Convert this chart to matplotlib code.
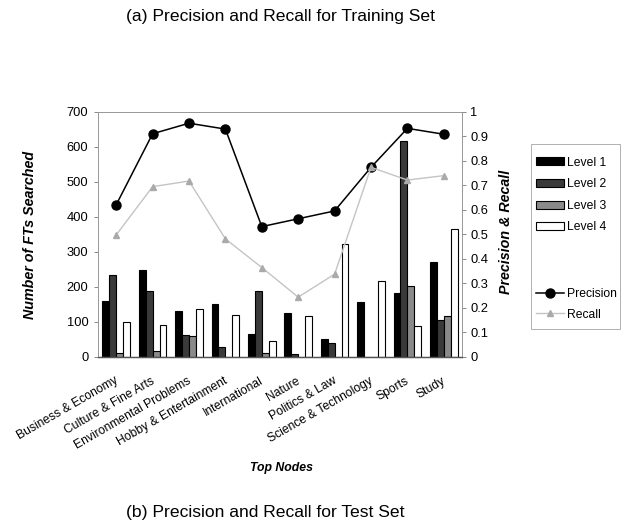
import numpy as np
import matplotlib
matplotlib.use("Agg")
import matplotlib.pyplot as plt
from matplotlib.patches import Patch, Rectangle
from matplotlib.lines import Line2D

plt.rcParams['font.family'] = ['Liberation Sans', 'DejaVu Sans']

categories = ["Business & Economy", "Culture & Fine Arts", "Environmental Problems",
              "Hobby & Entertainment", "International", "Nature", "Politics & Law",
              "Science & Technology", "Sports", "Study"]
level1 = [159, 247, 131, 150, 66, 126, 50, 157, 181, 270]
level2 = [233, 188, 62, 28, 187, 9, 38, 0, 615, 105]
level3 = [12, 15, 59, 0, 11, 0, 0, 0, 203, 116]
level4 = [99, 90, 137, 119, 44, 116, 323, 217, 87, 366]
precision = [0.62, 0.91, 0.953, 0.929, 0.531, 0.563, 0.595, 0.773, 0.932, 0.908]
recall = [0.497, 0.694, 0.717, 0.481, 0.364, 0.243, 0.337, 0.773, 0.721, 0.739]
left_ticks = [0, 100, 200, 300, 400, 500, 600, 700]
right_ticks = [0, 0.1, 0.2, 0.3, 0.4, 0.5, 0.6, 0.7, 0.8, 0.9, 1]

W, H = 623, 522
fig = plt.figure(figsize=(W / 100, H / 100), dpi=100)
ax = fig.add_axes([98 / W, 1 - 356.7 / H, (462 - 98) / W, (356.7 - 111.7) / H])
ax2 = ax.twinx()

x = np.arange(len(categories))
bw = 0.19
levels = [level1, level2, level3, level4]
fills = ["#000000", "#3a3a3a", "#8a8a8a", "#ffffff"]
names = ["Level 1", "Level 2", "Level 3", "Level 4"]
for i, (vals, fc) in enumerate(zip(levels, fills)):
    ax.bar(x + (i - 1.5) * bw, vals, width=bw, color=fc, edgecolor="black",
           linewidth=0.8, zorder=2)

ax.set_xlim(-0.5, len(categories) - 0.5)
ax.set_ylim(0, 700)
ax.set_yticks(left_ticks)
ax.set_yticklabels([str(t) for t in left_ticks], fontsize=9.3)
ax.set_xticks(x - 0.06)
ax.set_xticklabels(categories, rotation=30, ha="right", rotation_mode="anchor",
                   fontsize=8.7)
ax.tick_params(axis="x", length=0, pad=13)
ax.tick_params(axis="y", length=3, width=0.6, color="#777777", pad=4)

line_kw_p = dict(color="black", linewidth=1.1, marker="o", markersize=6.5)
line_kw_r = dict(color="#c4c4c4", linewidth=1.0, marker="^", markersize=5,
                 markerfacecolor="#aaaaaa", markeredgecolor="#aaaaaa")
ax2.plot(x, precision, zorder=3, **line_kw_p)
ax2.plot(x, recall, zorder=3, **line_kw_r)
ax2.set_ylim(0, 1)
ax2.set_yticks(right_ticks)
ax2.set_yticklabels([("%g" % t) for t in right_ticks], fontsize=9.3)
ax2.tick_params(axis="y", length=3, width=0.6, color="#777777", pad=3)

for a in (ax, ax2):
    for side in ("top", "right", "left"):
        a.spines[side].set_color("#9a9a9a")
        a.spines[side].set_linewidth(0.7)
    a.spines["bottom"].set_color("#555555")
    a.spines["bottom"].set_linewidth(0.9)

ax.set_ylabel("Number of FTs Searched", fontsize=10.3, fontweight="bold",
              fontstyle="italic")
ax.yaxis.set_label_coords((37 - 98) / 364, 0.495)
ax2.set_ylabel("Precision & Recall", fontsize=10.3, fontweight="bold",
               fontstyle="italic")
ax2.yaxis.set_label_coords((499 - 98) / 364, 0.509)
fig.text(281 / W, 1 - 468 / H, "Top Nodes", fontsize=8.8, fontweight="bold",
         fontstyle="italic", ha="center", va="center")

fig.text(281 / W, 1 - 16 / H, "(a) Precision and Recall for Training Set",
         fontsize=12.6, ha="center", va="center")
fig.text(265 / W, 1 - 513 / H, "(b) Precision and Recall for Test Set",
         fontsize=12.6, ha="center", va="center")

# legend frame holding both the bar and the line keys
fig.patches.append(Rectangle((531 / W, 1 - 329 / H), (620 - 531) / W, (329 - 144) / H,
                             transform=fig.transFigure, facecolor="white",
                             edgecolor="#b0b0b0", linewidth=0.7, zorder=0))

bar_handles = [Patch(facecolor=fc, edgecolor="black", linewidth=0.8) for fc in fills]
leg1 = fig.legend(bar_handles, names, loc="upper left",
                  bbox_to_anchor=(536 / W, 1 - 156.5 / H), fontsize=8.7,
                  frameon=False, handlelength=2.3, handleheight=0.66,
                  labelspacing=0.8, borderpad=0, handletextpad=0.25,
                  borderaxespad=0)
line_handles = [Line2D([], [], **line_kw_p), Line2D([], [], **line_kw_r)]
leg2 = fig.legend(line_handles, ["Precision", "Recall"], loc="upper left",
                  bbox_to_anchor=(536 / W, 1 - 288 / H), fontsize=8.7,
                  frameon=False, handlelength=2.3, labelspacing=0.72,
                  borderpad=0, handletextpad=0.25, borderaxespad=0)

fig.savefig("out.png", dpi=100, facecolor="white")
